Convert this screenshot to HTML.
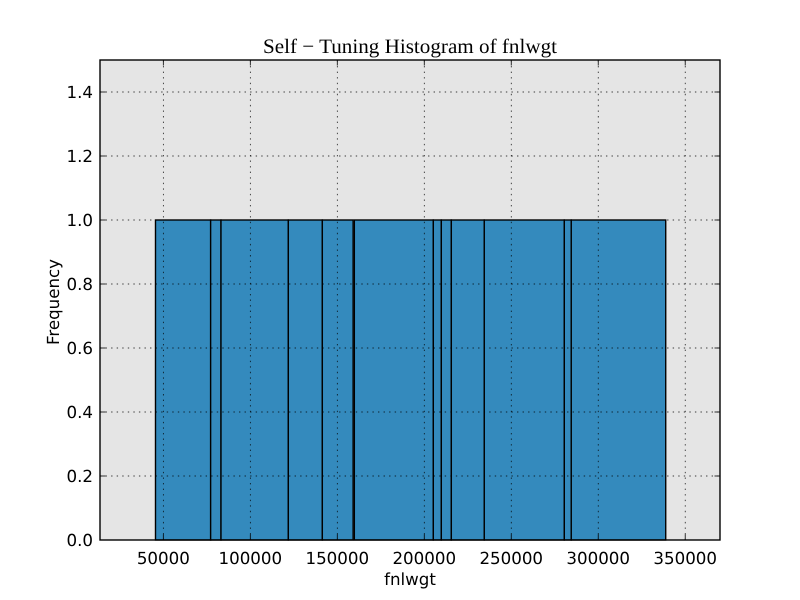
<!DOCTYPE html>
<html>
<head>
<meta charset="utf-8">
<title>Self-Tuning Histogram of fnlwgt</title>
<style>
html,body{margin:0;padding:0;background:#fff;width:800px;height:600px;overflow:hidden}
svg{display:block}
text{font-family:"DejaVu Sans","Liberation Sans",sans-serif;font-size:16.67px;fill:#000;text-rendering:geometricPrecision}
</style>
</head>
<body>
<svg id="chart" width="800" height="600" viewBox="0 0 800 600" xmlns="http://www.w3.org/2000/svg"></svg>
<script>
const binStarts = [45500, 77200, 83150, 121850, 141400, 159800, 205200, 209800, 215550, 234500, 280500, 284500];
const binEnds = [77200, 83150, 121850, 141400, 159100, 205200, 209800, 215550, 234500, 280500, 284500, 338800];
const frequencies = [1, 1, 1, 1, 1, 1, 1, 1, 1, 1, 1, 1];
const xTickValues = [50000, 100000, 150000, 200000, 250000, 300000, 350000];
const yTickValues = [0, 0.2, 0.4, 0.6, 0.8, 1.0, 1.2, 1.4];
const xDomain = [13600, 370000];
const yDomain = [0, 1.5];

const plotLeft = 100, plotRight = 720, plotTop = 60, plotBottom = 540;
const NS = 'http://www.w3.org/2000/svg';
const svg = document.getElementById('chart');

function xScale(v) {
  return plotLeft + (v - xDomain[0]) / (xDomain[1] - xDomain[0]) * (plotRight - plotLeft);
}
function yScale(v) {
  return plotBottom - (v - yDomain[0]) / (yDomain[1] - yDomain[0]) * (plotBottom - plotTop);
}
function make(tag, attrs, parent) {
  const el = document.createElementNS(NS, tag);
  for (const k in attrs) el.setAttribute(k, attrs[k]);
  (parent || svg).appendChild(el);
  return el;
}

const bg = make('rect', {x: plotLeft, y: plotTop, width: plotRight - plotLeft, height: plotBottom - plotTop, fill: '#E5E5E5'});



frequencies.forEach(function (f, i) {
  const x0 = xScale(binStarts[i]);
  const x1 = xScale(binEnds[i]);
  const y0 = yScale(f);
  const y1 = yScale(0);
  const bar = make('rect', {x: x0, y: y0, width: x1 - x0, height: y1 - y0, fill: '#348ABD', stroke: '#000', 'stroke-width': 1.39});
  
  
});

xTickValues.forEach(function (v) {
  const x = xScale(v);
  const grid = make('line', {x1: x, x2: x, y1: plotBottom, y2: plotTop, stroke: '#000', 'stroke-width': 0.7, 'stroke-dasharray': '1.39 4.17'});
  
  
  const tickB = make('line', {x1: x, x2: x, y1: plotBottom, y2: plotBottom - 5.5, stroke: '#000', 'stroke-width': 0.8});
  
  
  const tickT = make('line', {x1: x, x2: x, y1: plotTop, y2: plotTop + 5.5, stroke: '#000', 'stroke-width': 0.8});
  
  
  const label = make('text', {x: x, y: 564, 'text-anchor': 'middle'});
  label.textContent = String(v);
  
  
});

yTickValues.forEach(function (v) {
  const y = yScale(v);
  const grid = make('line', {x1: plotLeft, x2: plotRight, y1: y, y2: y, stroke: '#000', 'stroke-width': 0.7, 'stroke-dasharray': '1.39 4.17'});
  
  
  const tickL = make('line', {x1: plotLeft, x2: plotLeft + 5.5, y1: y, y2: y, stroke: '#000', 'stroke-width': 0.8});
  
  
  const tickR = make('line', {x1: plotRight, x2: plotRight - 5.5, y1: y, y2: y, stroke: '#000', 'stroke-width': 0.8});
  
  
  const label = make('text', {x: 93, y: y + 6, 'text-anchor': 'end'});
  label.textContent = v.toFixed(1);
  
  
});

const frame = make('rect', {x: plotLeft, y: plotTop, width: plotRight - plotLeft, height: plotBottom - plotTop, fill: 'none', stroke: '#000', 'stroke-width': 1.39});



const title = make('text', {x: 410, y: 53, 'text-anchor': 'middle', textLength: 294, lengthAdjust: 'spacingAndGlyphs', style: 'font-family:"Liberation Serif",serif;font-size:20.5px'});
title.textContent = 'Self \u2212 Tuning Histogram of fnlwgt';



const xTitle = make('text', {x: 410, y: 585, 'text-anchor': 'middle'});
xTitle.textContent = 'fnlwgt';



const yTitle = make('text', {x: 0, y: 0, 'text-anchor': 'middle', transform: 'translate(59 302) rotate(-90)'});
yTitle.textContent = 'Frequency';


</script>
</body>
</html>
